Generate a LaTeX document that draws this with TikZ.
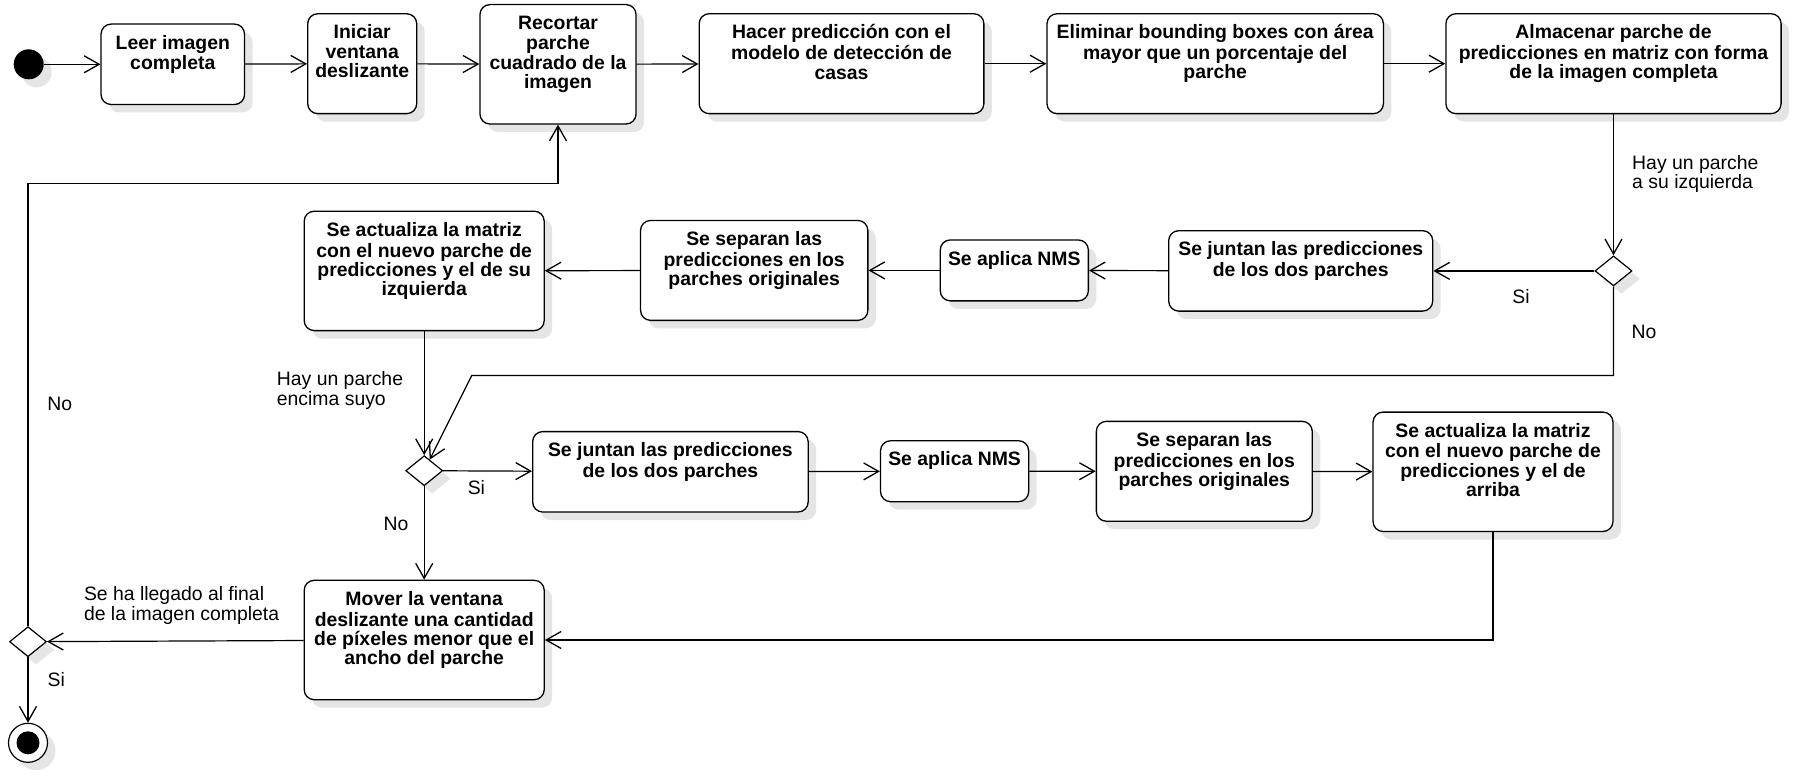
\documentclass[tikz,border=0pt]{standalone}
\usepackage{fontspec}
\setmainfont{Liberation Sans}
\usetikzlibrary{shapes.geometric,arrows.meta,shadows}
\newcommand\boxtext[3]{\parbox[c][#2pt][t]{#1pt}{\centering\fontsize{19.4}{19.2}\selectfont\bfseries\vspace*{11pt}\strut#3}}
\tikzset{
  shad/.style={drop shadow={shadow xshift=8pt,shadow yshift=-8pt,fill=black!10,opacity=1}},
  act/.style={draw,rounded corners=10pt,line width=1.3pt,inner sep=0pt,fill=white,shad},
  dec/.style={draw,diamond,line width=1.2pt,fill=white,inner sep=0pt,minimum width=37pt,minimum height=30pt,shad},
  arr/.style={-{Straight Barb[length=15pt,width=17pt,line width=1.3pt]},line width=1.2pt},
  lab/.style={font=\fontsize{19.4}{19.6}\selectfont,align=left,inner sep=0pt},
}
\begin{document}
\begin{tikzpicture}[x=1pt,y=1pt]
\useasboundingbox (0,0) rectangle (1800,-781);
% row 1
\node[circle,fill=black,minimum size=30pt,inner sep=0pt,shad] (start) at (28.7,-64.3) {};
\node[act] (leer) at (172.8,-64.3) {\boxtext{143.5}{80.4}{Leer imagen\\completa}};
\node[act] (iniciar) at (362.2,-63.7) {\boxtext{109}{99.9}{Iniciar\\ventana\\deslizante}};
\node[act] (recortar) at (558,-64.3) {\boxtext{156.1}{119.4}{Recortar\\parche\\cuadrado de la\\imagen}};
\node[act] (hacer) at (841.5,-63.7) {\boxtext{284.7}{99.9}{Hacer predicción con el\\modelo de detección de\\casas}};
\node[act] (elim) at (1215.2,-63.7) {\boxtext{336.4}{99.9}{Eliminar bounding boxes con área\\mayor que un porcentaje del\\parche}};
\node[act] (alm) at (1613.5,-63.7) {\boxtext{335.2}{99.9}{Almacenar parche de\\predicciones en matriz con forma\\de la imagen completa}};
% row 2
\node[dec] (d1) at (1613.5,-270.9) {};
\node[act] (jun2) at (1300.7,-270.9) {\boxtext{264}{80.4}{Se juntan las predicciones\\de los dos parches}};
\node[act] (nms2) at (1014.3,-270.4) {\boxtext{148.1}{60.9}{Se aplica NMS}};
\node[act] (sep2) at (754.2,-270.4) {\boxtext{227.3}{99.9}{Se separan las\\predicciones en los\\parches originales}};
\node[act] (act2) at (424.2,-270.9) {\boxtext{240}{119.4}{Se actualiza la matriz\\con el nuevo parche de\\predicciones y el de su\\izquierda}};
% row 3
\node[dec] (d2) at (424.2,-470.7) {};
\node[act] (jun3) at (670.4,-471.8) {\boxtext{275.5}{80.4}{Se juntan las predicciones\\de los dos parches}};
\node[act] (nms3) at (954.6,-471.2) {\boxtext{148.1}{60.9}{Se aplica NMS}};
\node[act] (sep3) at (1204.3,-471.3) {\boxtext{215.9}{99.9}{Se separan las\\predicciones en los\\parches originales}};
\node[act] (act3) at (1493,-471.8) {\boxtext{239.9}{119.4}{Se actualiza la matriz\\con el nuevo parche de\\predicciones y el de\\arriba}};
% row 4
\node[act] (mover) at (424.2,-640) {\boxtext{240}{119.4}{Mover la ventana\\deslizante una cantidad\\de píxeles menor que el\\ancho del parche}};
\node[dec] (d3) at (28,-641.7) {};
\node[circle,draw,line width=1.2pt,fill=white,minimum size=39pt,inner sep=0pt,shad,
  path picture={\fill[black] (path picture bounding box.center) circle (11.5pt);}] (end) at (28,-742.8) {};
% labels
\node[lab,anchor=west] (l1) at (1632,-174) {Hay un parche\\a su izquierda};
\node[lab] (l2) at (1521,-296.2) {Si};
\node[lab] (l3) at (1644,-331.8) {No};
\node[lab,anchor=west] (l4) at (276.7,-390.3) {Hay un parche\\encima suyo};
\node[lab] (l5) at (476.4,-487.9) {Si};
\node[lab] (l6) at (396,-523.5) {No};
\node[lab,anchor=west] (l7) at (83.8,-605.6) {Se ha llegado al final\\de la imagen completa};
\node[lab] (l8) at (59.7,-404.1) {No};
\node[lab] (l9) at (56.3,-679.6) {Si};
% coordinates
\coordinate (noY) at (0,-375.4);
\coordinate (noX) at (471.8,-375.4);
\coordinate (topY) at (0,-183.7);
% edges
\draw[arr] (start) -- (leer);
\draw[arr] (leer) -- (iniciar);
\draw[arr] (iniciar) -- (recortar);
\draw[arr] (recortar) -- (hacer);
\draw[arr] (hacer) -- (elim);
\draw[arr] (elim) -- (alm);
\draw[arr] (alm) -- (d1);
\draw[arr] (d1) -- (jun2);
\draw[arr] (jun2) -- (nms2);
\draw[arr] (nms2) -- (sep2);
\draw[arr] (sep2) -- (act2);
\draw[arr] (act2) -- (d2);
\draw[arr] (d1.south) -- (d1.south |- noY) -- (noX) -- (d2);
\draw[arr] (d2) -- (jun3);
\draw[arr] (jun3) -- (nms3);
\draw[arr] (nms3) -- (sep3);
\draw[arr] (sep3) -- (act3);
\draw[arr] (act3.south) |- (mover.east);
\draw[arr] (d2) -- (mover);
\draw[arr] (mover) -- (d3);
\draw[arr] (d3.north) -- (d3.north |- topY) -- (recortar.south |- topY) -- (recortar.south);
\draw[arr] (d3) -- (end);
\end{tikzpicture}
\end{document}
